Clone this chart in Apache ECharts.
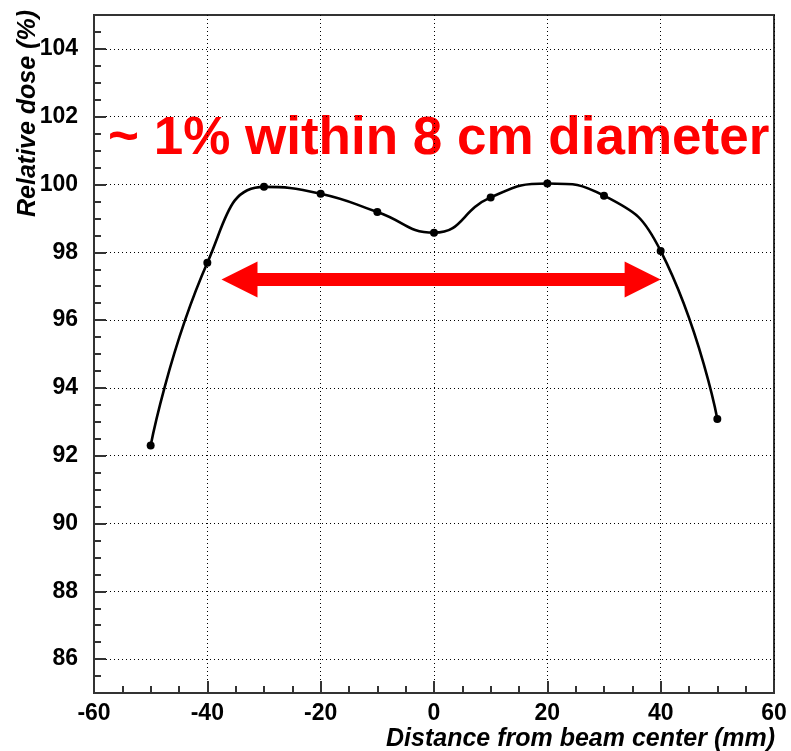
<!DOCTYPE html>
<html>
<head>
<meta charset="utf-8">
<script src="https://cdn.jsdelivr.net/npm/echarts@6/dist/echarts.min.js"></script>
<style>
  html, body { margin: 0; padding: 0; background: #fff; }
  #chart { width: 791px; height: 751px; }
</style>
</head>
<body>
<div id="chart"></div>
<script>
// ---- data ----
const distanceMm = [-50, -40, -30, -20, -10, 0, 10, 20, 30, 40, 50];
const relativeDose = [92.3, 97.69, 99.93, 99.73, 99.19, 98.58, 99.62, 100.03, 99.67, 98.04, 93.08];
const yTickValues = [86, 88, 90, 92, 94, 96, 98, 100, 102, 104];
const xTickValues = [-60, -40, -20, 0, 20, 40, 60];
const arrowTips = [-37.5, 40];
const arrowLevel = 97.2;
const annotationText = '~ 1% within 8 cm diameter';
const xTitle = 'Distance from beam center (mm)';
const yTitle = 'Relative dose (%)';

const FONT = '"Liberation Sans", Arial, sans-serif';
const chart = echarts.init(document.getElementById('chart'), null, { renderer: 'canvas' });

const headUnits = 3.18; // half of arrow head length in x units
const option = {
  animation: false,
  backgroundColor: '#fff',
  grid: {
    left: 94, right: 17, top: 15, bottom: 58,
    show: true, borderColor: '#333', borderWidth: 2, backgroundColor: 'transparent'
  },
  xAxis: {
    type: 'value', min: xTickValues[0], max: xTickValues[xTickValues.length - 1], interval: 20,
    axisLine: { show: true, onZero: false, lineStyle: { color: '#333', width: 2 } },
    axisTick: { show: true, inside: true, length: 12, lineStyle: { color: '#333', width: 2 } },
    minorTick: { show: true, splitNumber: 4, length: 7, lineStyle: { color: '#333', width: 2 } },
    splitLine: { show: true, lineStyle: { color: '#000', width: 1, type: [1, 3] } },
    axisLabel: { color: '#000', fontSize: 23, fontWeight: 'bold', fontFamily: FONT, margin: 9 }
  },
  yAxis: [
    {
      type: 'value', min: 85, max: 105, interval: 1, position: 'left',
      axisLine: { show: true, onZero: false, lineStyle: { color: '#333', width: 2 } },
      axisTick: { show: true, inside: true, length: 12, customValues: yTickValues, lineStyle: { color: '#333', width: 2 } },
      splitLine: { show: true, lineStyle: { color: '#000', width: 1, type: [1, 3] } },
      axisLabel: { color: '#000', fontSize: 23, fontWeight: 'bold', fontFamily: FONT, margin: 16, customValues: yTickValues }
    },
    {
      type: 'value', min: 85, max: 105, interval: 0.5, position: 'left', offset: 0,
      axisLine: { show: false, onZero: false },
      axisTick: { show: true, inside: true, length: 7, lineStyle: { color: '#333', width: 2 } },
      splitLine: { show: false },
      axisLabel: { show: false }
    }
  ],
  series: [{
    type: 'line',
    data: distanceMm.map((x, i) => [x, relativeDose[i]]),
    smooth: 0.5,
    symbol: 'circle', symbolSize: 8,
    itemStyle: { color: '#000' },
    lineStyle: { color: '#000', width: 2.6 },
    z: 5,
    markLine: {
      silent: true,
      symbol: ['triangle', 'triangle'],
      symbolSize: 36,
      label: { show: false },
      lineStyle: { color: '#ff0000', width: 13, type: 'solid', cap: 'butt' },
      itemStyle: { color: '#ff0000' },
      emphasis: { disabled: true },
      data: [[
        { coord: [arrowTips[0] + headUnits, arrowLevel] },
        { coord: [arrowTips[1] - headUnits, arrowLevel] }
      ]]
    }
  }],
  graphic: [
    {
      type: 'text', x: 28, y: 10, rotation: Math.PI / 2,
      style: { text: yTitle, font: 'italic bold 25px ' + FONT, fill: '#000', align: 'right', verticalAlign: 'middle' }
    },
    {
      type: 'text', x: 775, y: 739,
      style: { text: xTitle, font: 'italic bold 25px ' + FONT, fill: '#000', align: 'right', verticalAlign: 'middle' }
    },
    {
      type: 'text', x: 108, y: 139, z: -1,
      style: { text: annotationText, font: 'bold 53px ' + FONT, fill: '#ff0000', align: 'left', verticalAlign: 'middle' }
    }
  ]
};
chart.setOption(option);
</script>
</body>
</html>
